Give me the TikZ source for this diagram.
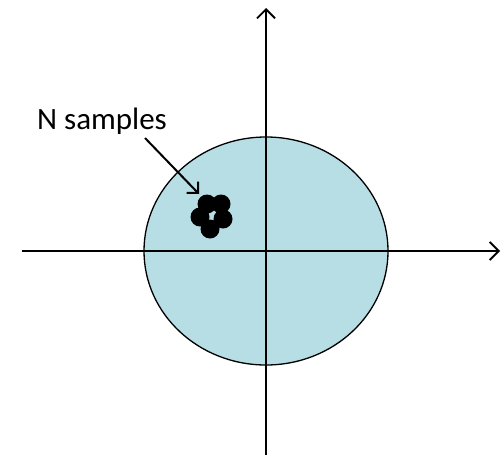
\documentclass[tikz,border=0pt]{standalone}
\usepackage{fontspec}
\setmainfont{Carlito}
\usetikzlibrary{arrows.meta}
\definecolor{discfill}{RGB}{183,222,229}
\tikzset{
  axis/.style={line width=1.8pt, -{Straight Barb[length=9pt,width=18pt,line width=1.8pt]}},
  pointer/.style={line width=2pt, -{Straight Barb[length=8pt,width=16pt,line width=2pt]}},
  sample/.style={circle, fill=black, inner sep=0pt, minimum size=19pt},
}
\begin{document}
\begin{tikzpicture}[x=1pt,y=-1pt]
\useasboundingbox (0,0) rectangle (502,455);
\draw[fill=discfill, line width=1.3pt] (266,251) ellipse [x radius=122, y radius=114];
\coordinate (hs) at (22,251);
\coordinate (he) at (500,251);
\coordinate (vs) at (266,455);
\coordinate (ve) at (266,8);
\draw[axis] (hs) -- (he);
\draw[axis] (vs) -- (ve);
\node[sample] (d1) at (207,204) {};
\node[sample] (d2) at (221,204) {};
\node[sample] (d3) at (200,217) {};
\node[sample] (d4) at (223,219) {};
\node[sample] (d5) at (210,229) {};
\node[font=\fontsize{31}{36}\selectfont, inner sep=0pt] (lbl) at (102,121) {N samples};
\coordinate (ps) at (145,138);
\draw[pointer] (ps) -- (199,194);
\end{tikzpicture}
\end{document}
